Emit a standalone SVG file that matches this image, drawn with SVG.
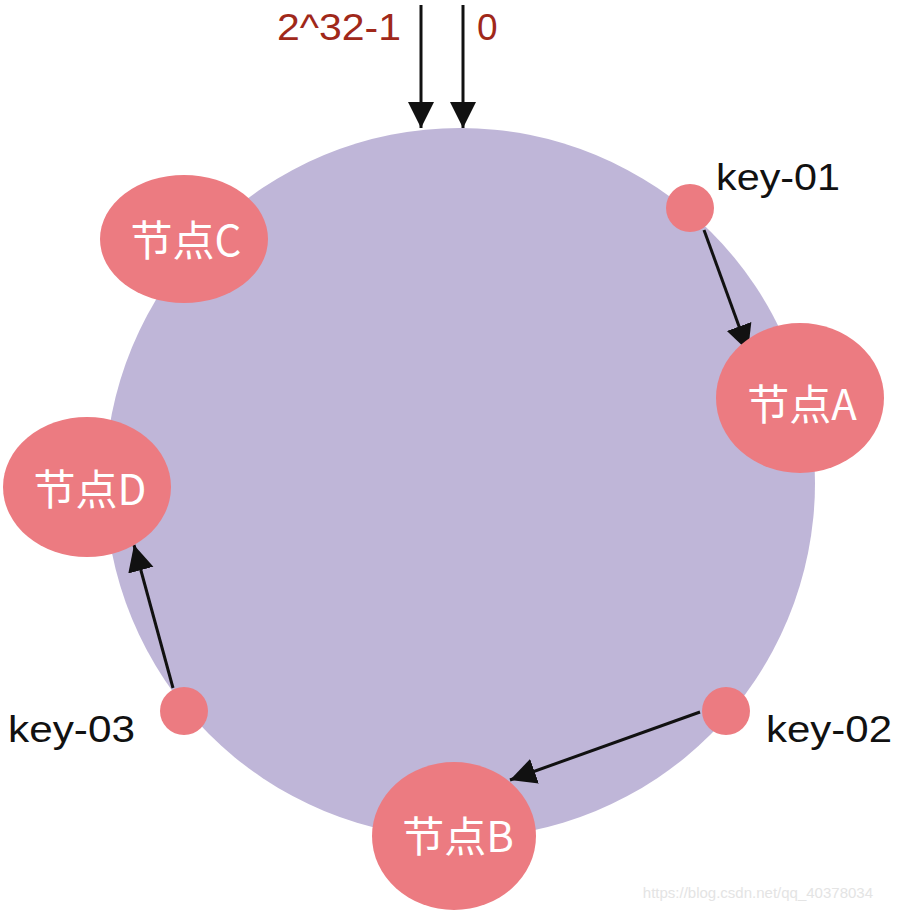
<svg xmlns="http://www.w3.org/2000/svg" width="897" height="913" viewBox="0 0 897 913">
<defs>
<marker id="ah" markerUnits="userSpaceOnUse" markerWidth="28" markerHeight="28" viewBox="0 0 28 28" refX="26" refY="14" orient="auto">
<path d="M0,1 L26,14 L0,27 Z" fill="#111"/>
</marker>
<style>
.ring{fill:#bfb6d8}
.node{fill:#ec7b81}
.key{fill:#ec7b81}
.nlabel{font-family:"Noto Sans CJK SC","Noto Sans",sans-serif;font-size:42px;fill:#fff;text-anchor:middle}
.klabel{font-family:"Liberation Sans",sans-serif;font-size:36px;fill:#111}
.rlabel{font-family:"Liberation Sans",sans-serif;font-size:37px;fill:#a0281a}
.edge{stroke:#111;stroke-width:3;fill:none;marker-end:url(#ah)}
</style>
</defs>
<rect width="897" height="913" fill="#fff"/>
<circle id="ring" class="ring" cx="460" cy="483" r="355"/>
<g id="connectors">
<line class="edge" x1="421" y1="5" x2="421" y2="128"/>
<line class="edge" x1="463" y1="5" x2="463" y2="128"/>
<line class="edge" x1="704" y1="230" x2="748" y2="351"/>
<line class="edge" x1="700" y1="712" x2="510" y2="780"/>
<line class="edge" x1="173" y1="688" x2="134" y2="545"/>
</g>
<g id="label-max"><text class="rlabel" x="277" y="40" textLength="124" lengthAdjust="spacingAndGlyphs">2^32-1</text></g>
<g id="label-zero"><text class="rlabel" x="477" y="40">0</text></g>
<g id="nodeC"><ellipse class="node" cx="184" cy="239" rx="84" ry="64"/><text class="nlabel" x="186" y="256">节点C</text></g>
<g id="nodeA"><ellipse class="node" cx="800" cy="398" rx="84" ry="75"/><text class="nlabel" x="802" y="420">节点A</text></g>
<g id="nodeD"><ellipse class="node" cx="87" cy="487" rx="84" ry="70"/><text class="nlabel" x="90" y="505">节点D</text></g>
<g id="nodeB"><ellipse class="node" cx="454" cy="836" rx="82" ry="74"/><text class="nlabel" x="458" y="852">节点B</text></g>
<g id="key01"><circle class="key" cx="690" cy="208" r="24"/><text class="klabel" x="716" y="190" textLength="124" lengthAdjust="spacingAndGlyphs">key-01</text></g>
<g id="key02"><circle class="key" cx="726" cy="711" r="24"/><text class="klabel" x="766" y="742" textLength="126" lengthAdjust="spacingAndGlyphs">key-02</text></g>
<g id="key03"><circle class="key" cx="184" cy="711" r="24"/><text class="klabel" x="8" y="742" textLength="127" lengthAdjust="spacingAndGlyphs">key-03</text></g>
<text x="873" y="898" text-anchor="end" font-family="Liberation Sans, sans-serif" font-size="15" fill="#e4e4e4">https://blog.csdn.net/qq_40378034</text>
</svg>
